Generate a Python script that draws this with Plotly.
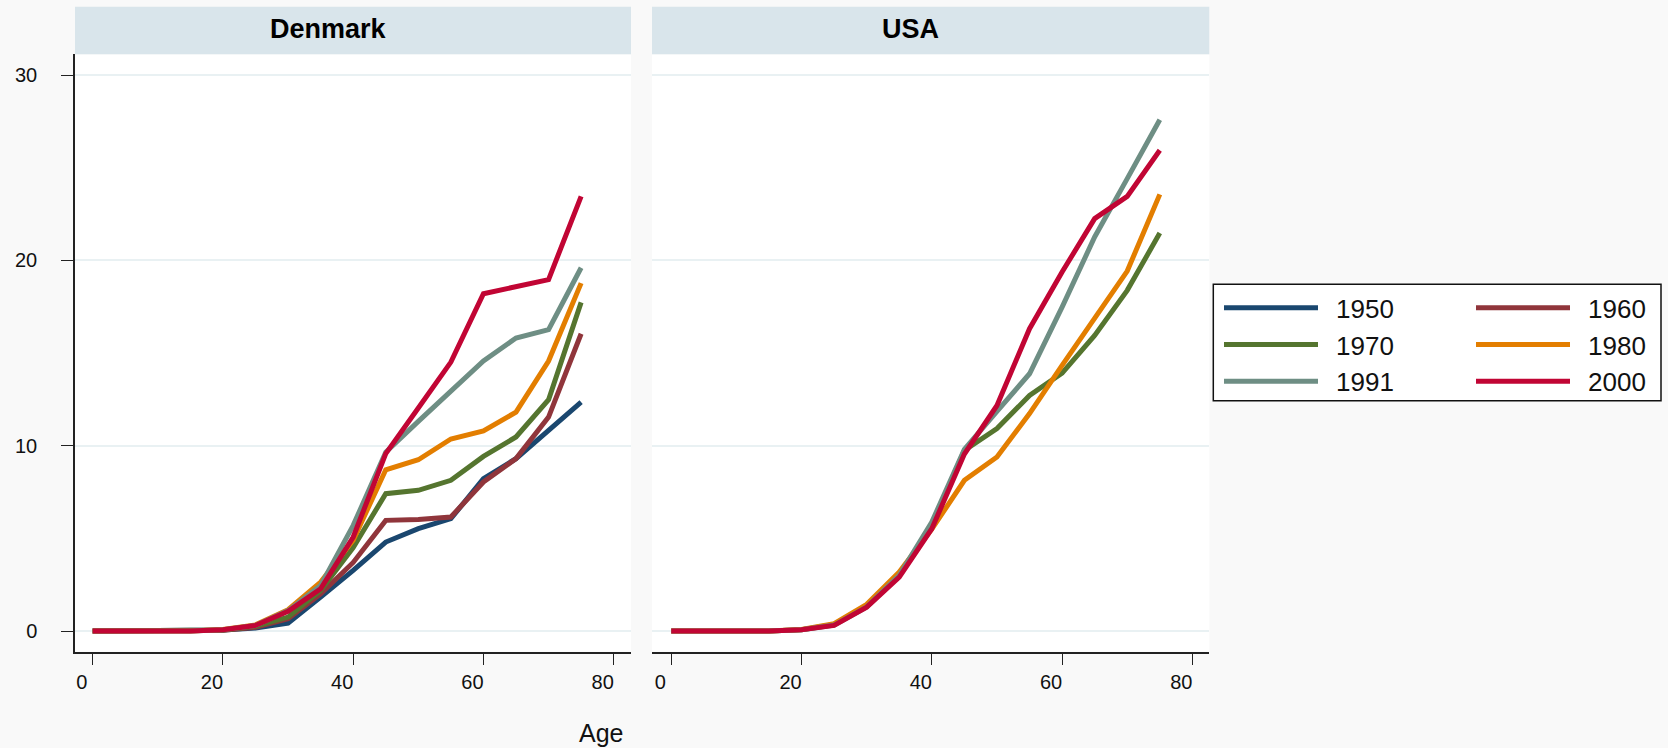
import plotly.graph_objects as go

# Age groups (lower bound of each 5-year band)
ages = [0, 5, 10, 15, 20, 25, 30, 35, 40, 45, 50, 55, 60, 65, 70, 75]

years = ["1950", "1960", "1970", "1980", "1991", "2000"]
colors = ["#1a476f", "#90353b", "#55752f", "#e37e00", "#6e8e84", "#c10534"]

# Denmark
dk_1950 = [0, 0, 0, 0, 0.05, 0.16, 0.43, 1.83, 3.27, 4.80, 5.52, 6.06, 8.22, 9.30, 10.80, 12.35]
dk_1960 = [0, 0, 0, 0, 0.04, 0.20, 0.66, 2.01, 3.70, 5.97, 6.02, 6.15, 8.04, 9.30, 11.54, 16.04]
dk_1970 = [0, 0, 0, 0, 0.05, 0.25, 0.75, 2.19, 4.50, 7.41, 7.59, 8.13, 9.42, 10.47, 12.48, 17.73]
dk_1980 = [0, 0, 0, 0, 0.08, 0.33, 1.15, 2.64, 4.90, 8.70, 9.24, 10.36, 10.79, 11.81, 14.57, 18.77]
dk_1991 = [0, 0, 0, 0, 0.07, 0.30, 1.10, 2.46, 5.70, 9.65, 11.31, 12.97, 14.57, 15.81, 16.26, 19.60]
dk_2000 = [0, 0, 0, 0, 0.07, 0.30, 1.06, 2.28, 5.07, 9.57, 12.03, 14.51, 18.20, 18.58, 18.96, 23.45]

# USA
us_1970 = [0, 0, 0, 0, 0.07, 0.35, 1.35, 3.00, 5.70, 9.75, 10.92, 12.71, 13.92, 15.95, 18.38, 21.47]
us_1980 = [0, 0, 0, 0, 0.08, 0.40, 1.44, 3.18, 5.50, 8.13, 9.39, 11.73, 14.33, 16.85, 19.42, 23.56]
us_1991 = [0, 0, 0, 0, 0.07, 0.32, 1.30, 3.00, 5.88, 9.80, 11.85, 13.88, 17.48, 21.26, 24.41, 27.59]
us_2000 = [0, 0, 0, 0, 0.07, 0.30, 1.29, 2.91, 5.52, 9.55, 12.17, 16.31, 19.37, 22.25, 23.45, 25.94]

panels = ["Denmark", "USA"]
x_ticks = [0, 20, 40, 60, 80]
y_ticks = [0, 10, 20, 30]

denmark = {"1950": dk_1950, "1960": dk_1960, "1970": dk_1970,
           "1980": dk_1980, "1991": dk_1991, "2000": dk_2000}
usa = {"1970": us_1970, "1980": us_1980, "1991": us_1991, "2000": us_2000}

W, H = 1668, 748
FONT = "Liberation Sans, Arial, sans-serif"
BG = "#f9f9f9"
STRIP = "#d9e5eb"
GRID = "#e9f1f3"
LW = 5


def px_x(p):
    return p / W


def px_y(p):
    return 1 - p / H


fig = go.Figure()

# legend in two columns: even-indexed years left, odd-indexed years right;
# an en space widens the gap between the line sample and its label
for i, (yr, col) in enumerate(zip(years, colors)):
    fig.add_trace(go.Scatter(
        x=ages, y=denmark[yr], mode="lines", name="\u2002" + yr,
        line=dict(color=col, width=LW), legendgroup=yr, showlegend=True,
        legend="legend" if i % 2 == 0 else "legend2",
        xaxis="x", yaxis="y"))
for yr, col in zip(years, colors):
    if yr in usa:
        fig.add_trace(go.Scatter(
            x=ages, y=usa[yr], mode="lines", name="\u2002" + yr,
            line=dict(color=col, width=LW), legendgroup=yr, showlegend=False,
            xaxis="x2", yaxis="y2"))

# panel geometry (pixels)
p1 = (75, 631)
p2 = (652, 1209.3)
top, bottom = 54.3, 651.7
ydom = [px_y(bottom), px_y(top)]

xaxis_common = dict(
    tickvals=x_ticks, ticks="outside", ticklen=12, tickwidth=1.3, tickcolor="#222",
    showline=True, linecolor="#222", linewidth=1.5, showgrid=False, zeroline=False,
    tickfont=dict(family=FONT, size=20, color="#111"), ticklabelshift=-11,
)

legend_common = dict(
    orientation="v", yanchor="top", xanchor="left", y=px_y(284.3),
    bgcolor="rgba(0,0,0,0)", borderwidth=0, tracegroupgap=0,
    font=dict(family=FONT, size=26, color="#111"), itemwidth=94,
)

fig.update_layout(
    width=W, height=H,
    margin=dict(l=0, r=0, t=0, b=0),
    paper_bgcolor=BG, plot_bgcolor="white",
    font=dict(family=FONT, color="#111"),
    xaxis=dict(domain=[px_x(p1[0]), px_x(p1[1])], range=[-2.72, 82.66],
               anchor="y", **xaxis_common),
    xaxis2=dict(domain=[px_x(p2[0]), px_x(p2[1])], range=[-2.96, 82.6],
                anchor="y2", **xaxis_common),
    yaxis=dict(domain=ydom, range=[-1.117, 31.117], tickvals=y_ticks,
               ticks="outside", ticklen=12, tickwidth=1.3, tickcolor="#222",
               showline=True, linecolor="#222", linewidth=1.5,
               showgrid=True, gridcolor=GRID, gridwidth=2, zeroline=False,
               tickfont=dict(family=FONT, size=20, color="#111"),
               ticklabelstandoff=20, anchor="x"),
    yaxis2=dict(domain=ydom, range=[-1.117, 31.117], tickvals=y_ticks,
                showticklabels=False, ticks="", showline=False,
                showgrid=True, gridcolor=GRID, gridwidth=2, zeroline=False,
                anchor="x2"),
    legend=dict(x=px_x(1219), **legend_common),
    legend2=dict(x=px_x(1471), **legend_common),
    showlegend=True,
)

# legend frame
fig.add_shape(type="rect", xref="paper", yref="paper",
              x0=px_x(1213.3), x1=px_x(1661), y0=px_y(400.7), y1=px_y(284.3),
              fillcolor="white", line=dict(color="#111", width=1.5), layer="above")

# facet strips and titles
title_x = [328, 910]
for (a, b), name, tx in zip([p1, p2], panels, title_x):
    fig.add_shape(type="rect", xref="paper", yref="paper",
                  x0=px_x(a), x1=px_x(b), y0=px_y(top), y1=px_y(6.7),
                  fillcolor=STRIP, line=dict(width=0), layer="below")
    fig.add_annotation(text="<b>%s</b>" % name, xref="paper", yref="paper",
                       x=px_x(tx), y=px_y(29), xanchor="center", yanchor="middle",
                       showarrow=False, font=dict(family=FONT, size=27, color="#000"))

fig.add_annotation(text="Age", xref="paper", yref="paper",
                   x=px_x(600.7), y=px_y(733), xanchor="center", yanchor="middle",
                   showarrow=False, font=dict(family=FONT, size=25, color="#111"))

fig.write_html("out.html")
